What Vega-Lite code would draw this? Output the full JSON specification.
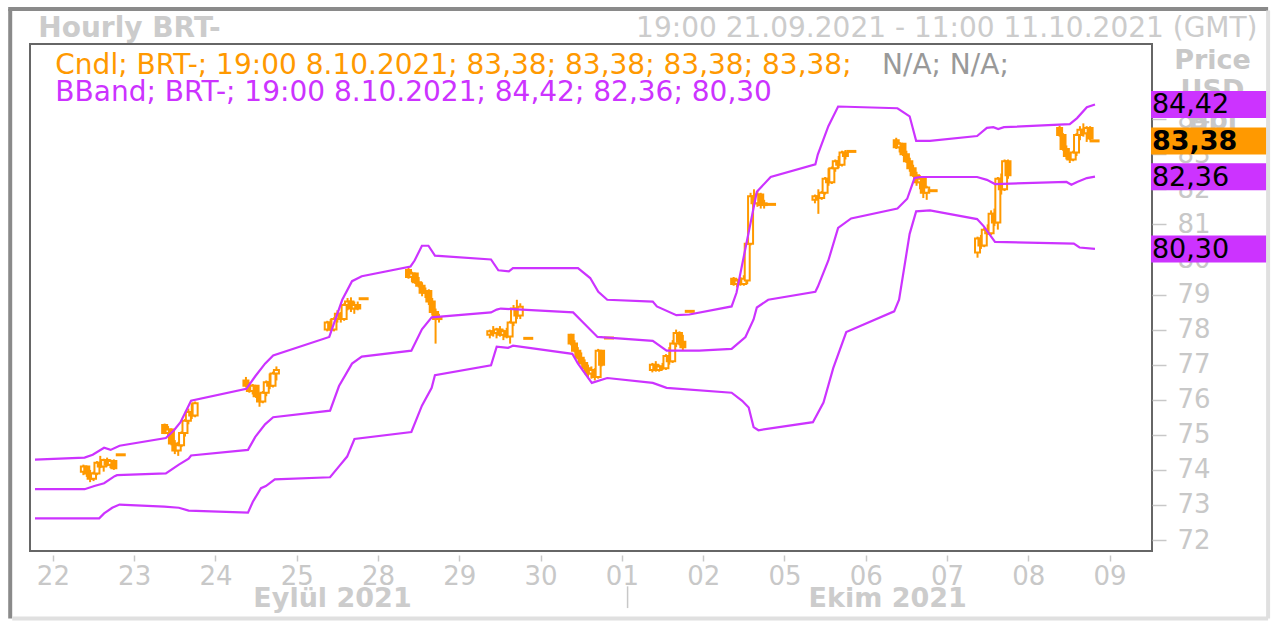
{
  "$schema": "https://vega.github.io/schema/vega-lite/v6.json",
  "width": 1122,
  "height": 507,
  "autosize": {"type": "none"},
  "padding": {"left": 30, "top": 44, "right": 130, "bottom": 76},
  "background": "white",
  "config": {
    "view": {"stroke": "#666666", "strokeWidth": 2},
    "font": "DejaVu Sans",
    "text": {"font": "DejaVu Sans"}
  },
  "datasets": {
    "candles": [
      {"t":0.375,"o":73.95,"h":74.15,"l":73.85,"c":74.10},{"t":0.417,"o":74.10,"h":74.12,"l":73.80,"c":73.90},{"t":0.458,"o":73.90,"h":74.00,"l":73.65,"c":73.75},{"t":0.500,"o":73.75,"h":73.95,"l":73.68,"c":73.90},{"t":0.542,"o":73.90,"h":74.25,"l":73.85,"c":74.20},{"t":0.583,"o":74.20,"h":74.40,"l":74.05,"c":74.10},{"t":0.625,"o":74.10,"h":74.32,"l":73.95,"c":74.28},{"t":0.667,"o":74.28,"h":74.35,"l":74.10,"c":74.15},{"t":0.708,"o":74.15,"h":74.30,"l":74.05,"c":74.25},{"t":0.750,"o":74.25,"h":74.30,"l":74.00,"c":74.05},
      {"t":1.375,"o":75.28,"h":75.32,"l":75.02,"c":75.05},{"t":1.417,"o":75.05,"h":75.25,"l":74.95,"c":75.15},{"t":1.458,"o":75.15,"h":75.18,"l":74.70,"c":74.75},{"t":1.500,"o":74.75,"h":74.85,"l":74.45,"c":74.55},{"t":1.542,"o":74.55,"h":74.80,"l":74.40,"c":74.70},{"t":1.583,"o":74.70,"h":75.10,"l":74.65,"c":75.05},{"t":1.625,"o":75.05,"h":75.45,"l":74.95,"c":75.40},{"t":1.667,"o":75.40,"h":75.75,"l":75.30,"c":75.65},{"t":1.708,"o":75.65,"h":75.90,"l":75.45,"c":75.55},{"t":1.750,"o":75.55,"h":75.95,"l":75.50,"c":75.90},
      {"t":2.375,"o":76.55,"h":76.65,"l":76.35,"c":76.40},{"t":2.417,"o":76.40,"h":76.50,"l":76.20,"c":76.25},{"t":2.458,"o":76.25,"h":76.45,"l":76.15,"c":76.40},{"t":2.500,"o":76.40,"h":76.42,"l":76.05,"c":76.10},{"t":2.542,"o":76.10,"h":76.20,"l":75.80,"c":75.95},{"t":2.583,"o":75.95,"h":76.25,"l":75.90,"c":76.20},{"t":2.625,"o":76.20,"h":76.55,"l":76.10,"c":76.50},{"t":2.667,"o":76.50,"h":76.75,"l":76.30,"c":76.40},{"t":2.708,"o":76.40,"h":76.80,"l":76.35,"c":76.75},{"t":2.750,"o":76.75,"h":76.95,"l":76.55,"c":76.85},
      {"t":3.375,"o":78.00,"h":78.25,"l":77.95,"c":78.20},{"t":3.417,"o":78.20,"h":78.30,"l":77.95,"c":78.00},{"t":3.458,"o":78.00,"h":78.35,"l":77.95,"c":78.30},{"t":3.500,"o":78.30,"h":78.55,"l":78.20,"c":78.45},{"t":3.542,"o":78.45,"h":78.50,"l":78.20,"c":78.30},{"t":3.583,"o":78.30,"h":78.75,"l":78.25,"c":78.70},{"t":3.625,"o":78.70,"h":78.90,"l":78.55,"c":78.80},{"t":3.667,"o":78.80,"h":78.92,"l":78.50,"c":78.60},{"t":3.708,"o":78.60,"h":78.80,"l":78.45,"c":78.70},{"t":3.750,"o":78.70,"h":78.80,"l":78.55,"c":78.60},
      {"t":4.375,"o":79.70,"h":79.78,"l":79.45,"c":79.50},{"t":4.417,"o":79.50,"h":79.65,"l":79.35,"c":79.60},{"t":4.458,"o":79.60,"h":79.62,"l":79.30,"c":79.35},{"t":4.500,"o":79.35,"h":79.50,"l":79.20,"c":79.25},{"t":4.542,"o":79.25,"h":79.35,"l":78.95,"c":79.05},{"t":4.583,"o":79.05,"h":79.20,"l":78.90,"c":79.10},{"t":4.625,"o":79.10,"h":79.15,"l":78.70,"c":78.80},{"t":4.667,"o":78.80,"h":78.90,"l":78.40,"c":78.50},{"t":4.708,"o":78.50,"h":78.60,"l":77.60,"c":78.30},{"t":4.750,"o":78.30,"h":78.45,"l":78.20,"c":78.35},
      {"t":5.375,"o":77.85,"h":78.00,"l":77.75,"c":77.95},{"t":5.417,"o":77.95,"h":78.10,"l":77.80,"c":77.90},{"t":5.458,"o":77.90,"h":78.05,"l":77.75,"c":78.00},{"t":5.500,"o":78.00,"h":78.10,"l":77.80,"c":77.85},{"t":5.542,"o":77.85,"h":78.00,"l":77.70,"c":77.95},{"t":5.583,"o":77.95,"h":78.05,"l":77.75,"c":77.80},{"t":5.625,"o":77.80,"h":78.25,"l":77.60,"c":78.20},{"t":5.667,"o":78.20,"h":78.70,"l":78.10,"c":78.60},{"t":5.708,"o":78.60,"h":78.85,"l":78.30,"c":78.40},{"t":5.750,"o":78.40,"h":78.75,"l":78.30,"c":78.65},
      {"t":6.375,"o":77.85,"h":77.88,"l":77.55,"c":77.60},{"t":6.417,"o":77.60,"h":77.70,"l":77.35,"c":77.40},{"t":6.458,"o":77.40,"h":77.50,"l":77.15,"c":77.20},{"t":6.500,"o":77.20,"h":77.35,"l":77.00,"c":77.05},{"t":6.542,"o":77.05,"h":77.15,"l":76.80,"c":76.90},{"t":6.583,"o":76.90,"h":77.00,"l":76.65,"c":76.75},{"t":6.625,"o":76.75,"h":76.95,"l":76.60,"c":76.85},{"t":6.667,"o":76.85,"h":76.90,"l":76.55,"c":76.65},{"t":6.708,"o":76.65,"h":77.45,"l":76.60,"c":77.40},{"t":6.750,"o":77.40,"h":77.42,"l":76.95,"c":77.00},
      {"t":7.375,"o":76.85,"h":77.05,"l":76.78,"c":77.00},{"t":7.417,"o":77.00,"h":77.10,"l":76.80,"c":76.85},{"t":7.458,"o":76.85,"h":77.00,"l":76.80,"c":76.95},{"t":7.500,"o":76.95,"h":77.05,"l":76.85,"c":76.90},{"t":7.542,"o":76.90,"h":77.30,"l":76.85,"c":77.25},{"t":7.583,"o":77.25,"h":77.50,"l":77.00,"c":77.10},{"t":7.625,"o":77.10,"h":77.70,"l":77.05,"c":77.60},{"t":7.667,"o":77.60,"h":78.00,"l":77.50,"c":77.90},{"t":7.708,"o":77.90,"h":77.95,"l":77.55,"c":77.65},{"t":7.750,"o":77.65,"h":77.85,"l":77.40,"c":77.50},
      {"t":8.375,"o":79.45,"h":79.50,"l":79.25,"c":79.30},{"t":8.417,"o":79.30,"h":79.45,"l":79.20,"c":79.40},{"t":8.458,"o":79.40,"h":79.50,"l":79.25,"c":79.30},{"t":8.500,"o":79.30,"h":79.55,"l":79.25,"c":79.45},{"t":8.542,"o":79.40,"h":80.55,"l":79.30,"c":80.45},{"t":8.583,"o":80.45,"h":81.90,"l":80.40,"c":81.80},{"t":8.625,"o":81.80,"h":82.00,"l":81.50,"c":81.60},{"t":8.667,"o":81.60,"h":81.95,"l":81.50,"c":81.85},{"t":8.708,"o":81.85,"h":81.90,"l":81.45,"c":81.55},{"t":8.750,"o":81.55,"h":81.70,"l":81.45,"c":81.60},
      {"t":9.375,"o":81.70,"h":81.85,"l":81.60,"c":81.80},{"t":9.417,"o":81.80,"h":82.00,"l":81.30,"c":81.75},{"t":9.458,"o":81.75,"h":81.95,"l":81.70,"c":81.90},{"t":9.500,"o":81.90,"h":82.35,"l":81.85,"c":82.30},{"t":9.542,"o":82.30,"h":82.60,"l":82.10,"c":82.20},{"t":9.583,"o":82.20,"h":82.65,"l":82.15,"c":82.60},{"t":9.625,"o":82.60,"h":82.85,"l":82.50,"c":82.80},{"t":9.667,"o":82.80,"h":82.95,"l":82.60,"c":82.70},{"t":9.708,"o":82.70,"h":83.10,"l":82.65,"c":83.05},{"t":9.750,"o":83.05,"h":83.12,"l":82.85,"c":82.95},
      {"t":10.375,"o":83.40,"h":83.47,"l":83.15,"c":83.20},{"t":10.417,"o":83.20,"h":83.35,"l":83.05,"c":83.30},{"t":10.458,"o":83.30,"h":83.32,"l":82.95,"c":83.00},{"t":10.500,"o":83.00,"h":83.10,"l":82.75,"c":82.80},{"t":10.542,"o":82.80,"h":82.90,"l":82.50,"c":82.60},{"t":10.583,"o":82.60,"h":82.70,"l":82.35,"c":82.40},{"t":10.625,"o":82.40,"h":82.50,"l":82.10,"c":82.20},{"t":10.667,"o":82.20,"h":82.40,"l":82.00,"c":82.30},{"t":10.708,"o":82.30,"h":82.35,"l":81.75,"c":81.90},{"t":10.750,"o":81.90,"h":82.10,"l":81.70,"c":82.05},
      {"t":11.375,"o":80.20,"h":80.65,"l":80.05,"c":80.60},{"t":11.417,"o":80.60,"h":80.70,"l":80.30,"c":80.40},{"t":11.458,"o":80.40,"h":80.90,"l":80.35,"c":80.85},{"t":11.500,"o":80.85,"h":81.00,"l":80.70,"c":80.75},{"t":11.542,"o":80.75,"h":81.40,"l":80.70,"c":81.30},{"t":11.583,"o":81.30,"h":81.45,"l":80.95,"c":81.05},{"t":11.625,"o":81.05,"h":82.35,"l":80.85,"c":82.30},{"t":11.667,"o":82.30,"h":82.45,"l":81.85,"c":82.00},{"t":11.708,"o":82.00,"h":82.85,"l":81.95,"c":82.80},{"t":11.750,"o":82.80,"h":82.85,"l":82.30,"c":82.40},
      {"t":12.385,"o":83.75,"h":83.82,"l":83.50,"c":83.55},{"t":12.427,"o":83.55,"h":83.60,"l":83.10,"c":83.15},{"t":12.468,"o":83.15,"h":83.25,"l":82.85,"c":82.95},{"t":12.510,"o":82.95,"h":83.05,"l":82.75,"c":82.85},{"t":12.552,"o":82.85,"h":83.10,"l":82.80,"c":83.05},{"t":12.593,"o":83.05,"h":83.60,"l":82.95,"c":83.55},{"t":12.635,"o":83.55,"h":83.80,"l":83.40,"c":83.70},{"t":12.677,"o":83.70,"h":83.88,"l":83.50,"c":83.60},{"t":12.718,"o":83.60,"h":83.80,"l":83.35,"c":83.75},{"t":12.760,"o":83.75,"h":83.80,"l":83.40,"c":83.45}
    ],
    "dashes": [
      {"t":0.835,"v":74.43},{"t":3.823,"v":78.88},{"t":5.848,"v":77.75},{"t":6.841,"v":77.76},{"t":7.835,"v":78.52},{"t":8.835,"v":81.57},{"t":9.823,"v":83.08},{"t":10.823,"v":81.96},{"t":12.815,"v":83.38}
    ],
    "bands": [
      {"band":"upper","t":-0.22,"v":74.29},{"band":"upper","t":0.39,"v":74.35},{"band":"upper","t":0.49,"v":74.43},{"band":"upper","t":0.63,"v":74.63},{"band":"upper","t":0.71,"v":74.57},{"band":"upper","t":0.82,"v":74.69},{"band":"upper","t":1.39,"v":74.91},{"band":"upper","t":1.49,"v":75.13},{"band":"upper","t":1.57,"v":75.36},{"band":"upper","t":1.70,"v":75.97},{"band":"upper","t":2.38,"v":76.31},{"band":"upper","t":2.49,"v":76.67},{"band":"upper","t":2.61,"v":77.03},{"band":"upper","t":2.71,"v":77.26},{"band":"upper","t":3.40,"v":77.79},{"band":"upper","t":3.56,"v":78.85},{"band":"upper","t":3.68,"v":79.38},{"band":"upper","t":3.80,"v":79.52},{"band":"upper","t":4.40,"v":79.80},{"band":"upper","t":4.45,"v":79.97},{"band":"upper","t":4.54,"v":80.39},{"band":"upper","t":4.62,"v":80.39},{"band":"upper","t":4.70,"v":80.11},{"band":"upper","t":5.39,"v":80.00},{"band":"upper","t":5.48,"v":79.69},{"band":"upper","t":5.61,"v":79.66},{"band":"upper","t":5.66,"v":79.75},{"band":"upper","t":6.46,"v":79.75},{"band":"upper","t":6.61,"v":79.47},{"band":"upper","t":6.71,"v":79.08},{"band":"upper","t":6.82,"v":78.85},{"band":"upper","t":7.38,"v":78.80},{"band":"upper","t":7.43,"v":78.66},{"band":"upper","t":7.67,"v":78.41},{"band":"upper","t":7.83,"v":78.43},{"band":"upper","t":8.35,"v":78.66},{"band":"upper","t":8.41,"v":79.05},{"band":"upper","t":8.66,"v":81.93},{"band":"upper","t":8.83,"v":82.35},{"band":"upper","t":9.38,"v":82.71},{"band":"upper","t":9.41,"v":82.99},{"band":"upper","t":9.54,"v":83.80},{"band":"upper","t":9.66,"v":84.36},{"band":"upper","t":10.39,"v":84.31},{"band":"upper","t":10.54,"v":84.08},{"band":"upper","t":10.62,"v":83.38},{"band":"upper","t":10.79,"v":83.38},{"band":"upper","t":11.37,"v":83.52},{"band":"upper","t":11.49,"v":83.75},{"band":"upper","t":11.57,"v":83.77},{"band":"upper","t":11.63,"v":83.72},{"band":"upper","t":11.70,"v":83.77},{"band":"upper","t":12.51,"v":83.86},{"band":"upper","t":12.60,"v":84.03},{"band":"upper","t":12.72,"v":84.34},{"band":"upper","t":12.82,"v":84.42},
      {"band":"mid","t":-0.22,"v":73.45},{"band":"mid","t":0.39,"v":73.45},{"band":"mid","t":0.51,"v":73.54},{"band":"mid","t":0.63,"v":73.62},{"band":"mid","t":0.76,"v":73.82},{"band":"mid","t":0.79,"v":73.85},{"band":"mid","t":1.39,"v":73.90},{"band":"mid","t":1.55,"v":74.15},{"band":"mid","t":1.67,"v":74.32},{"band":"mid","t":1.70,"v":74.41},{"band":"mid","t":2.40,"v":74.57},{"band":"mid","t":2.49,"v":74.94},{"band":"mid","t":2.61,"v":75.30},{"band":"mid","t":2.71,"v":75.50},{"band":"mid","t":3.41,"v":75.69},{"band":"mid","t":3.52,"v":76.39},{"band":"mid","t":3.68,"v":77.03},{"band":"mid","t":3.80,"v":77.23},{"band":"mid","t":4.41,"v":77.40},{"band":"mid","t":4.54,"v":78.01},{"band":"mid","t":4.66,"v":78.35},{"band":"mid","t":5.39,"v":78.49},{"band":"mid","t":5.46,"v":78.57},{"band":"mid","t":5.51,"v":78.60},{"band":"mid","t":6.40,"v":78.49},{"band":"mid","t":6.52,"v":78.21},{"band":"mid","t":6.70,"v":77.79},{"band":"mid","t":7.38,"v":77.68},{"band":"mid","t":7.55,"v":77.40},{"band":"mid","t":7.95,"v":77.40},{"band":"mid","t":8.35,"v":77.45},{"band":"mid","t":8.52,"v":77.79},{"band":"mid","t":8.62,"v":78.29},{"band":"mid","t":8.66,"v":78.63},{"band":"mid","t":8.80,"v":78.85},{"band":"mid","t":9.38,"v":79.08},{"band":"mid","t":9.41,"v":79.22},{"band":"mid","t":9.54,"v":79.97},{"band":"mid","t":9.66,"v":80.90},{"band":"mid","t":9.82,"v":81.17},{"band":"mid","t":10.39,"v":81.45},{"band":"mid","t":10.51,"v":81.73},{"band":"mid","t":10.60,"v":82.32},{"band":"mid","t":10.67,"v":82.35},{"band":"mid","t":11.37,"v":82.35},{"band":"mid","t":11.49,"v":82.27},{"band":"mid","t":11.59,"v":82.15},{"band":"mid","t":12.47,"v":82.21},{"band":"mid","t":12.53,"v":82.13},{"band":"mid","t":12.60,"v":82.21},{"band":"mid","t":12.72,"v":82.32},{"band":"mid","t":12.82,"v":82.36},
      {"band":"lower","t":-0.22,"v":72.62},{"band":"lower","t":0.57,"v":72.62},{"band":"lower","t":0.63,"v":72.76},{"band":"lower","t":0.73,"v":72.92},{"band":"lower","t":0.82,"v":73.01},{"band":"lower","t":1.37,"v":72.95},{"band":"lower","t":1.55,"v":72.92},{"band":"lower","t":1.67,"v":72.84},{"band":"lower","t":2.40,"v":72.78},{"band":"lower","t":2.46,"v":73.09},{"band":"lower","t":2.56,"v":73.48},{"band":"lower","t":2.62,"v":73.54},{"band":"lower","t":2.73,"v":73.73},{"band":"lower","t":3.41,"v":73.79},{"band":"lower","t":3.52,"v":74.10},{"band":"lower","t":3.62,"v":74.38},{"band":"lower","t":3.71,"v":74.88},{"band":"lower","t":4.41,"v":75.08},{"band":"lower","t":4.54,"v":75.83},{"band":"lower","t":4.66,"v":76.34},{"band":"lower","t":4.70,"v":76.70},{"band":"lower","t":5.39,"v":76.98},{"band":"lower","t":5.46,"v":77.51},{"band":"lower","t":5.60,"v":77.48},{"band":"lower","t":5.66,"v":77.54},{"band":"lower","t":6.39,"v":77.31},{"band":"lower","t":6.46,"v":77.03},{"band":"lower","t":6.63,"v":76.48},{"band":"lower","t":6.82,"v":76.62},{"band":"lower","t":7.38,"v":76.48},{"band":"lower","t":7.55,"v":76.34},{"band":"lower","t":8.35,"v":76.20},{"band":"lower","t":8.48,"v":75.97},{"band":"lower","t":8.56,"v":75.78},{"band":"lower","t":8.62,"v":75.22},{"band":"lower","t":8.68,"v":75.13},{"band":"lower","t":9.35,"v":75.36},{"band":"lower","t":9.48,"v":75.92},{"band":"lower","t":9.60,"v":76.90},{"band":"lower","t":9.76,"v":77.93},{"band":"lower","t":10.35,"v":78.52},{"band":"lower","t":10.41,"v":78.85},{"band":"lower","t":10.54,"v":80.73},{"band":"lower","t":10.62,"v":81.37},{"band":"lower","t":10.79,"v":81.40},{"band":"lower","t":11.37,"v":81.15},{"band":"lower","t":11.45,"v":80.95},{"band":"lower","t":11.59,"v":80.50},{"band":"lower","t":12.56,"v":80.45},{"band":"lower","t":12.63,"v":80.34},{"band":"lower","t":12.82,"v":80.30}
    ],
    "boxes": [
      {"v":84.42,"label":"84,42","series":"BBand"},
      {"v":83.38,"label":"83,38","series":"Cndl"},
      {"v":82.36,"label":"82,36","series":"BBand"},
      {"v":80.30,"label":"80,30","series":"BBand"}
    ]
  },
  "layer": [
    {
      "data": {"name": "candles"},
      "mark": {"type": "rule", "color": "#ff9900", "strokeWidth": 2},
      "encoding": {
        "x": {
          "field": "t", "type": "quantitative",
          "scale": {"domain": [-0.22, 13.46], "nice": false, "zero": false},
          "axis": {
            "orient": "bottom", "title": null,
            "values": [0,1,2,3,4,5,6,7,8,9,10,11,12,13],
            "labelExpr": "['22','23','24','25','28','29','30','01','02','05','06','07','08','09'][round(datum.value)]",
            "domain": false, "grid": false, "ticks": true, "tickSize": 6, "tickColor": "#c8c8c8", "tickWidth": 1.5,
            "offset": 4, "labelFontSize": 26, "labelColor": "#c8c8c8", "labelPadding": 2,
            "labelFont": "DejaVu Sans", "labelOverlap": false, "labelFlush": false
          }
        },
        "y": {
          "field": "l", "type": "quantitative",
          "scale": {"domain": [71.83, 86.0], "nice": false, "zero": false},
          "axis": {
            "orient": "right",
            "title": ["Price", "USD", "Bbl"],
            "titleAngle": 0, "titleAlign": "center", "titleBaseline": "top",
            "titleX": 60, "titleY": 3, "titleFontSize": 27, "titleFontWeight": "bold",
            "titleColor": "#c8c8c8", "titleLineHeight": 30, "titleFont": "DejaVu Sans",
            "values": [72,73,74,75,76,77,78,79,80,81,82,83,84],
            "domain": false, "grid": false, "tickSize": 14, "tickColor": "#c8c8c8", "tickWidth": 1.5,
            "labelFontSize": 26, "labelColor": "#c8c8c8", "labelPadding": 11,
            "labelFont": "DejaVu Sans", "labelOverlap": false, "labelFlush": false
          }
        },
        "y2": {"field": "h"}
      }
    },
    {
      "data": {"name": "candles"},
      "mark": {"type": "bar", "size": 5, "stroke": "#ff9900", "strokeWidth": 2},
      "encoding": {
        "x": {"field": "t", "type": "quantitative"},
        "y": {"field": "o", "type": "quantitative"},
        "y2": {"field": "c"},
        "fill": {"condition": {"test": "datum.c < datum.o", "value": "#ff9900"}, "value": "#ffffff"}
      }
    },
    {
      "data": {"name": "dashes"},
      "mark": {"type": "tick", "orient": "horizontal", "size": 10, "thickness": 3, "color": "#ff9900", "opacity": 1},
      "encoding": {
        "x": {"field": "t", "type": "quantitative"},
        "y": {"field": "v", "type": "quantitative"}
      }
    },
    {
      "data": {"name": "bands"},
      "mark": {"type": "line", "color": "#cc33ff", "strokeWidth": 2.2},
      "encoding": {
        "x": {"field": "t", "type": "quantitative"},
        "y": {"field": "v", "type": "quantitative"},
        "detail": {"field": "band", "type": "nominal"}
      }
    },
    {
      "data": {"name": "boxes"},
      "mark": {"type": "bar", "size": 27, "orient": "horizontal"},
      "encoding": {
        "x": {"datum": 13.51, "type": "quantitative"},
        "x2": {"datum": 14.93},
        "y": {"field": "v", "type": "quantitative"},
        "color": {"field": "series", "type": "nominal", "scale": {"domain": ["Cndl", "BBand"], "range": ["#ff9900", "#cc33ff"]}, "legend": null}
      }
    },
    {
      "data": {"name": "boxes"},
      "transform": [{"filter": "datum.series == 'BBand'"}],
      "mark": {"type": "text", "align": "left", "baseline": "middle", "fontSize": 27, "color": "#000000", "dy": 1},
      "encoding": {
        "x": {"datum": 13.52, "type": "quantitative"},
        "y": {"field": "v", "type": "quantitative"},
        "text": {"field": "label"}
      }
    },
    {
      "data": {"name": "boxes"},
      "transform": [{"filter": "datum.series == 'Cndl'"}],
      "mark": {"type": "text", "align": "left", "baseline": "middle", "fontSize": 27, "fontWeight": "bold", "color": "#000000", "dy": 1},
      "encoding": {
        "x": {"datum": 13.52, "type": "quantitative"},
        "y": {"field": "v", "type": "quantitative"},
        "text": {"field": "label"}
      }
    },
    {
      "data": {"values": [{}]},
      "mark": {"type": "text", "align": "left", "baseline": "alphabetic", "fontSize": 28, "color": "#ff9900", "text": "Cndl; BRT-; 19:00 8.10.2021; 83,38; 83,38; 83,38; 83,38;"},
      "encoding": {"x": {"datum": 0.03, "type": "quantitative"}, "y": {"datum": 85.3, "type": "quantitative"}}
    },
    {
      "data": {"values": [{}]},
      "mark": {"type": "text", "align": "left", "baseline": "alphabetic", "fontSize": 28, "color": "#999999", "text": "N/A; N/A;"},
      "encoding": {"x": {"datum": 10.2, "type": "quantitative"}, "y": {"datum": 85.3, "type": "quantitative"}}
    },
    {
      "data": {"values": [{}]},
      "mark": {"type": "text", "align": "left", "baseline": "alphabetic", "fontSize": 28, "color": "#cc33ff", "text": "BBand; BRT-; 19:00 8.10.2021; 84,42; 82,36; 80,30"},
      "encoding": {"x": {"datum": 0.03, "type": "quantitative"}, "y": {"datum": 84.52, "type": "quantitative"}}
    },
    {
      "data": {"values": [{}]},
      "mark": {"type": "text", "align": "left", "baseline": "alphabetic", "fontSize": 28, "fontWeight": "bold", "color": "#cccccc", "text": "Hourly BRT-"},
      "encoding": {"x": {"datum": -0.18, "type": "quantitative"}, "y": {"datum": 86.33, "type": "quantitative"}}
    },
    {
      "data": {"values": [{}]},
      "mark": {"type": "text", "align": "right", "baseline": "alphabetic", "fontSize": 28, "color": "#cccccc", "text": "19:00 21.09.2021 - 11:00 11.10.2021 (GMT)"},
      "encoding": {"x": {"datum": 14.82, "type": "quantitative"}, "y": {"datum": 86.33, "type": "quantitative"}}
    },
    {
      "data": {"values": [{}]},
      "mark": {"type": "text", "align": "center", "baseline": "alphabetic", "fontSize": 27, "fontWeight": "bold", "color": "#cccccc", "text": "Eylül 2021"},
      "encoding": {"x": {"datum": 3.44, "type": "quantitative"}, "y": {"datum": 70.08, "type": "quantitative"}}
    },
    {
      "data": {"values": [{}]},
      "mark": {"type": "text", "align": "center", "baseline": "alphabetic", "fontSize": 27, "fontWeight": "bold", "color": "#cccccc", "text": "Ekim 2021"},
      "encoding": {"x": {"datum": 10.27, "type": "quantitative"}, "y": {"datum": 70.08, "type": "quantitative"}}
    },
    {
      "data": {"values": [{}]},
      "mark": {"type": "rule", "color": "#c8c8c8", "strokeWidth": 1.5},
      "encoding": {"x": {"datum": 7.07, "type": "quantitative"}, "y": {"datum": 70.68, "type": "quantitative"}, "y2": {"datum": 70.06}}
    },
    {
      "data": {"values": [{}]},
      "mark": {"type": "rule", "color": "#8a8a8a", "strokeWidth": 4},
      "encoding": {"x": {"datum": -0.525, "type": "quantitative"}, "y": {"datum": 87.14, "type": "quantitative"}, "y2": {"datum": 69.76}}
    },
    {
      "data": {"values": [{}]},
      "mark": {"type": "rule", "color": "#8a8a8a", "strokeWidth": 4},
      "encoding": {"y": {"datum": 87.14, "type": "quantitative"}, "x": {"datum": -0.55, "type": "quantitative"}, "x2": {"datum": 14.95}}
    },
    {
      "data": {"values": [{}]},
      "mark": {"type": "rule", "color": "#e0e0e0", "strokeWidth": 4},
      "encoding": {"x": {"datum": 14.95, "type": "quantitative"}, "y": {"datum": 87.1, "type": "quantitative"}, "y2": {"datum": 69.76}}
    },
    {
      "data": {"values": [{}]},
      "mark": {"type": "rule", "color": "#e0e0e0", "strokeWidth": 4},
      "encoding": {"y": {"datum": 69.76, "type": "quantitative"}, "x": {"datum": -0.5, "type": "quantitative"}, "x2": {"datum": 14.95}}
    }
  ]
}
